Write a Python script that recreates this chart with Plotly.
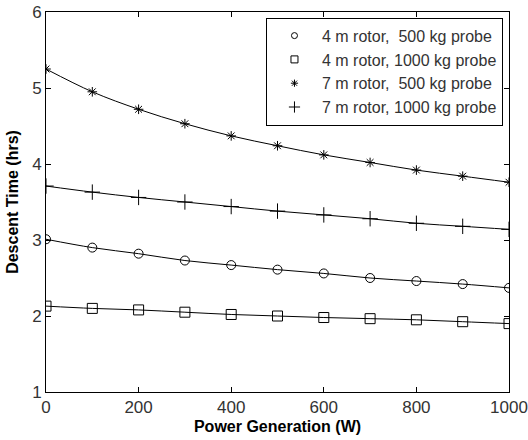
import plotly.graph_objects as go

# Power generation (W)
power = [0, 100, 200, 300, 400, 500, 600, 700, 800, 900, 1000]

# Descent time (hrs) for each rotor / probe combination
t_4m_500 = [3.01, 2.90, 2.82, 2.73, 2.67, 2.61, 2.56, 2.50, 2.46, 2.42, 2.37]
t_4m_1000 = [2.13, 2.10, 2.08, 2.05, 2.02, 2.00, 1.98, 1.965, 1.95, 1.925, 1.90]
t_7m_500 = [5.25, 4.95, 4.72, 4.53, 4.37, 4.24, 4.12, 4.02, 3.92, 3.84, 3.76]
t_7m_1000 = [3.71, 3.63, 3.56, 3.50, 3.44, 3.38, 3.33, 3.28, 3.22, 3.18, 3.14]

labels = [
    "4 m rotor,\u00a0 500 kg probe",
    "4 m rotor, 1000 kg probe",
    "7 m rotor,\u00a0 500 kg probe",
    "7 m rotor, 1000 kg probe",
]
series = [t_4m_500, t_4m_1000, t_7m_500, t_7m_1000]
symbols = ["circle-open", "square-open", "asterisk-open", "cross-thin-open"]
sizes = [9, 10, 8, 11]
legend_sizes = [6, 7, 6, 8]

INK = "#000000"
TXT = "#333333"
FONT = "Liberation Sans, Arial, sans-serif"

fig = go.Figure()

# smooth curves through the points (no legend entry)
for ys in series:
    fig.add_trace(go.Scatter(
        x=power, y=ys, mode="lines",
        line=dict(color=INK, width=1, shape="spline"),
        showlegend=False, hoverinfo="skip",
    ))

# markers
for ys, sym, sz in zip(series, symbols, sizes):
    fig.add_trace(go.Scatter(
        x=power, y=ys, mode="markers", showlegend=False,
        marker=dict(symbol=sym, size=sz, color=INK,
                    line=dict(color=INK, width=1)),
    ))

# legend entries with the smaller MATLAB-style symbols
for name, sym, sz in zip(labels, symbols, legend_sizes):
    fig.add_trace(go.Scatter(
        x=[None], y=[None], mode="markers", name=name,
        marker=dict(symbol=sym, size=sz, color=INK,
                    line=dict(color=INK, width=1)),
    ))

axis_common = dict(
    showline=True, linecolor=INK, linewidth=1, mirror="ticks",
    ticks="inside", ticklen=5, tickcolor=INK,
    showgrid=False, zeroline=False, automargin=False,
    tickfont=dict(family=FONT, size=17, color=TXT),
)

fig.update_layout(
    width=528, height=440,
    paper_bgcolor="white", plot_bgcolor="white",
    margin=dict(l=46, r=19, t=12, b=48),
    font=dict(family=FONT, color=INK),
    xaxis=dict(
        **axis_common, range=[0, 1000], tickvals=[0, 200, 400, 600, 800, 1000],
        title=dict(text="<b>Power Generation (W)</b>", font=dict(size=16), standoff=4),
    ),
    yaxis=dict(
        **axis_common, range=[1, 6], tickvals=[1, 2, 3, 4, 5, 6],
        title=dict(text="<b>Descent Time (hrs)</b>", font=dict(size=16), standoff=9),
    ),
    legend=dict(
        x=0.987, y=0.985, xanchor="right", yanchor="top",
        bgcolor="white", bordercolor=INK, borderwidth=1,
        font=dict(family=FONT, size=16, color=TXT),
        itemsizing="trace", itemwidth=45,
    ),
)

# drop the browser's default page margin so the figure fills the window
fig.write_html(
    "out.html",
    config={"displayModeBar": False},
    post_script="document.body.style.margin='0';",
)
